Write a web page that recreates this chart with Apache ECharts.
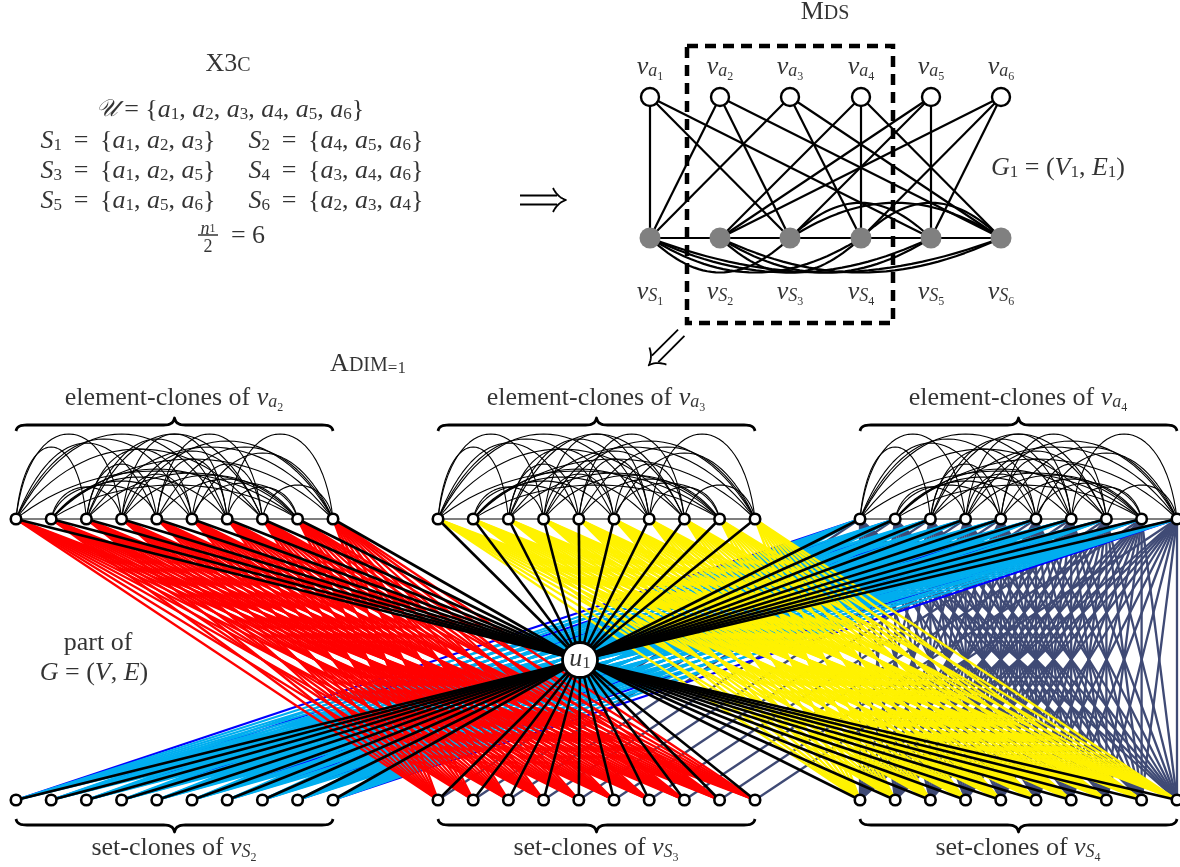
<!DOCTYPE html>
<html><head><meta charset="utf-8">
<style>html,body{margin:0;padding:0;background:#fff}#c{width:1180px;height:867px}</style>
<script src="https://cdn.jsdelivr.net/npm/echarts@6/dist/echarts.min.js"></script>
</head><body><div id="c"></div>
<script>
// ---- diagram data ----
const mdsColumnX = [650, 720, 790, 861, 931, 1001];
const mdsTopY = 97, mdsBottomY = 238;
// element i -> sets containing it (X3C instance)
const elementSets = [[0,2,4],[0,2,5],[0,3,5],[1,3,5],[1,2,4],[1,3,4]];
const setLowerArcs = [[0,2],[0,3],[0,4],[0,5],[1,3],[1,4],[1,5]];
const setUpperArcs = [[2,4],[2,5],[3,5]];
const groupStartX = [16, 438, 860];
const cloneOffsetX = [0, 35.2, 70.4, 105.6, 140.8, 176, 211.2, 246.4, 281.6, 317];
const cloneTopY = 519, cloneBottomY = 800;
const hub = [580, 660];
// [from clone, to clone, arc height]
const cloneArcs = [
 [0,2,72],[0,3,85],[0,4,76],[0,5,80],[0,6,85],[0,7,70],[0,8,48],
 [1,3,32],[1,4,34],[1,5,38],[1,6,42],[1,7,50],[1,8,34],[1,9,60],
 [2,4,55],[2,5,70],[2,6,80],[2,7,85],[2,8,46],[2,9,72],
 [3,5,45],[3,6,85],[3,7,68],[3,8,44],[3,9,78],
 [4,6,60],[4,7,85],[4,8,40],[4,9,72],
 [5,7,55],[5,8,36],[5,9,66],
 [6,8,32],[6,9,85],
 [7,9,34]
];
const set3 = (n,a,b,c)=>`{i|S}{s|${n}}{r|\u2009 = \u2009{}{i|a}{s|${a}}{r|, }{i|a}{s|${b}}{r|, }{i|a}{s|${c}}}`;
const textLabels = [
 [228,64,'{r|X3}{sc|C}'],
 [230,110,'{u|𝒰}{r| = {}{i|a}{s|1}{r|, }{i|a}{s|2}{r|, }{i|a}{s|3}{r|, }{i|a}{s|4}{r|, }{i|a}{s|5}{r|, }{i|a}{s|6}}'],
 [128,141,set3(1,1,2,3)],
 [336,141,set3(2,4,5,6)],
 [128,171,set3(3,1,2,5)],
 [336,171,set3(4,3,4,6)],
 [128,201,set3(5,1,5,6)],
 [336,201,set3(6,2,3,4)],
 [208,225,'{si|n}{ssb|1}'],
 [208,247,'{sn|2}'],
 [248,236,'{r|= 6}'],
 [825,12,'{r|M}{sc|DS}'],
 [1058,168,'{i|G}{s|1}{r| = (}{i|V}{s|1}{r|, }{i|E}{s|1}{r|)}'],
 [368,364,'{r|A}{sc|DIM}{s|=1}'],
 [174,398,'{r|element-clones of }{i|v}{si|a}{ss|2}'],
 [596,398,'{r|element-clones of }{i|v}{si|a}{ss|3}'],
 [1018,398,'{r|element-clones of }{i|v}{si|a}{ss|4}'],
 [174,848,'{r|set-clones of }{i|v}{si|S}{ss|2}'],
 [596,848,'{r|set-clones of }{i|v}{si|S}{ss|3}'],
 [1018,848,'{r|set-clones of }{i|v}{si|S}{ss|4}'],
 [98,643,'{r|part of}'],
 [94,673,'{i|G}{r| = (}{i|V}{r|, }{i|E}{r|)}'],
 [580,659,'{i|u}{s|1}'],
 [650,67,'{i|v}{si|a}{ss|1}'],[720,67,'{i|v}{si|a}{ss|2}'],[790,67,'{i|v}{si|a}{ss|3}'],
 [861,67,'{i|v}{si|a}{ss|4}'],[931,67,'{i|v}{si|a}{ss|5}'],[1001,67,'{i|v}{si|a}{ss|6}'],
 [650,292,'{i|v}{si|S}{ss|1}'],[720,292,'{i|v}{si|S}{ss|2}'],[790,292,'{i|v}{si|S}{ss|3}'],
 [861,292,'{i|v}{si|S}{ss|4}'],[931,292,'{i|v}{si|S}{ss|5}'],[1001,292,'{i|v}{si|S}{ss|6}']
];
const boxCorners = [[687,46],[893,46],[893,323],[687,323],[687,46]];
const fractionBar = [[198,235],[218,235]];

// ---- helpers ----
const F = 'Liberation Serif';
const FS = 26;
const rich = {
 r:{fontFamily:F,fontSize:FS,color:'#000'},
 i:{fontFamily:F,fontStyle:'italic',fontSize:FS,color:'#000'},
 u:{fontFamily:'DejaVu Serif',fontStyle:'italic',fontSize:24,color:'#000'},
 s:{fontFamily:F,fontSize:17,color:'#000',padding:[10,0,0,0]},
 si:{fontFamily:F,fontStyle:'italic',fontSize:18,color:'#000',padding:[8,0,0,0]},
 sn:{fontFamily:F,fontSize:18,color:'#000'},
 ss:{fontFamily:F,fontSize:12,color:'#000',padding:[20,0,0,0]},
 ssb:{fontFamily:F,fontSize:12,color:'#000',padding:[8,0,0,0]},
 sc:{fontFamily:F,fontSize:20,color:'#000',padding:[4,0,0,0]}
};
function cubic(p0,p1,p2,p3,n){
 const out=[];
 for(let k=0;k<=n;k++){const t=k/n,u=1-t;
  out.push([u*u*u*p0[0]+3*u*u*t*p1[0]+3*u*t*t*p2[0]+t*t*t*p3[0],
            u*u*u*p0[1]+3*u*u*t*p1[1]+3*u*t*t*p2[1]+t*t*t*p3[1]]);}
 return out;
}
function arc(x0,x1,y,h,span){ // h>0 up; peak height h
 const c=h/0.75, dx=(x1-x0)*(span<=3?0.12:0.28);
 return cubic([x0,y],[x0+dx,y-c],[x1-dx,y-c],[x1,y],32);
}
function brace(x0,x1,y,dir){ // dir=-1 tip up, +1 tip down
 const m=(x0+x1)/2, e=-dir*6, tip=dir*7, r=11;
 const pts=[];
 pts.push(...cubic([x0,y+e],[x0+1,y+e*0.25],[x0+4,y],[x0+r,y],8));
 pts.push(...cubic([m-r,y],[m-4,y],[m-1,y+tip*0.3],[m,y+tip],8));
 pts.push(...cubic([m,y+tip],[m+1,y+tip*0.3],[m+4,y],[m+r,y],8));
 pts.push(...cubic([x1-r,y],[x1-4,y],[x1-1,y+e*0.25],[x1,y+e],8));
 return pts;
}
function doubleArrow(cx,cy,deg,len){ // glyph built as three strokes, rotated about its centre
 const a=deg*Math.PI/180, R=([x,y])=>[cx+x*Math.cos(a)-y*Math.sin(a),cy+x*Math.sin(a)+y*Math.cos(a)];
 const L=len/2;
 return [
  {coords:[[-L,-4.5],[L-9,-4.5]].map(R)},
  {coords:[[-L,4.5],[L-9,4.5]].map(R)},
  {coords:[...cubic([L-13,-12],[L-10,-6],[L-6,-2],[L,0],10),...cubic([L,0],[L-6,2],[L-10,6],[L-13,12],10)].map(R)}
 ];
}
const cloneX = g => cloneOffsetX.map(o=>groupStartX[g]+o);
const bip=(topG,botG,filter)=>{const r=[];
 cloneX(topG).forEach((a,i)=>cloneX(botG).forEach((b,j)=>{
  if(filter(i,j)) r.push({coords:[[a,cloneTopY],[b,cloneBottomY]]});}));return r;};
const all=()=>true, same=(i,j)=>i===j, diff=(i,j)=>i!==j;
function lineSeries(data,color,width,z,extra){
 return Object.assign({type:'lines',coordinateSystem:'cartesian2d',polyline:true,silent:true,z,
  lineStyle:{color,width,opacity:1,cap:'butt',join:'round'},data,animation:false},extra||{});
}
// edge sets
const hubEdges=[];
[0,1,2].forEach(g=>cloneX(g).forEach(x=>{
 hubEdges.push({coords:[hub,[x,cloneTopY]]});hubEdges.push({coords:[hub,[x,cloneBottomY]]});}));
const arcEdges=[];
[0,1,2].forEach(g=>{const xs=cloneX(g);
 for(let i=0;i<9;i++)arcEdges.push({coords:[[xs[i],cloneTopY],[xs[i+1],cloneTopY]]});
 cloneArcs.forEach(a=>arcEdges.push({coords:arc(xs[a[0]],xs[a[1]],cloneTopY,a[2],a[1]-a[0])}));
});
const mdsEdges=[];
elementSets.forEach((ss,a)=>ss.forEach(s=>mdsEdges.push({coords:[[mdsColumnX[a],mdsTopY],[mdsColumnX[s],mdsBottomY]]})));
mdsEdges.push({coords:mdsColumnX.map(x=>[x,mdsBottomY])});
const bow=(p,h)=>{const a=mdsColumnX[p[0]],b=mdsColumnX[p[1]],d=(b-a)*0.35;
 return {coords:cubic([a,mdsBottomY],[a+d,mdsBottomY+h],[b-d,mdsBottomY+h],[b,mdsBottomY],32)};};
setLowerArcs.forEach(p=>mdsEdges.push(bow(p,46)));
setUpperArcs.forEach(p=>mdsEdges.push(bow(p,-47)));
const braces=[];
[0,1,2].forEach(g=>{const xs=cloneX(g);
 braces.push({coords:brace(xs[0],xs[9],425,-1)});
 braces.push({coords:brace(xs[0],xs[9],825,1)});
});
const cloneNodes=[];
[0,1,2].forEach(g=>cloneX(g).forEach(x=>{cloneNodes.push([x,cloneTopY]);cloneNodes.push([x,cloneBottomY]);}));

const option={
 animation:false,backgroundColor:'#fff',
 grid:{left:0,right:0,top:0,bottom:0},
 xAxis:{type:'value',min:0,max:1180,show:false},
 yAxis:{type:'value',min:0,max:867,inverse:true,show:false},
 series:[
  lineSeries([...bip(2,2,all),...(()=>{const r=[];cloneX(1).forEach((b,i)=>r.push({coords:[[cloneX(2)[i],cloneTopY],[b,cloneBottomY]]}));return r;})()],'#3F4A75',2.3,1),
  lineSeries(bip(2,0,same),'#0000FF',2.3,2),
  lineSeries(bip(2,0,diff),'#00AEEF',2.3,3),
  lineSeries(bip(0,1,all),'#FF0000',2.3,4),
  lineSeries(bip(1,2,all),'#FFF200',2.3,5),
  lineSeries(arcEdges,'#000',1.1,6),
  lineSeries(hubEdges,'#000',2.6,7),
  lineSeries(mdsEdges,'#000',2.2,6),
  lineSeries(braces,'#000',2.8,6),
  lineSeries([...doubleArrow(543,200,0,46),...doubleArrow(665,349,135,46)],'#000',1.8,6),
  lineSeries([{coords:boxCorners}],'#000',4.5,9,{lineStyle:{color:'#000',width:4.5,type:[11,7],opacity:1}}),
  lineSeries([{coords:fractionBar}],'#000',1.2,9),
  {type:'scatter',z:10,silent:true,symbol:'circle',symbolSize:10.5,animation:false,
   itemStyle:{color:'#fff',borderColor:'#000',borderWidth:2.6,opacity:1},data:cloneNodes},
  {type:'scatter',z:10,silent:true,symbol:'circle',symbolSize:35,animation:false,
   itemStyle:{color:'#fff',borderColor:'#000',borderWidth:2.8,opacity:1},data:[hub]},
  {type:'scatter',z:10,silent:true,symbol:'circle',symbolSize:18,animation:false,
   itemStyle:{color:'#fff',borderColor:'#000',borderWidth:2.4,opacity:1},data:mdsColumnX.map(x=>[x,mdsTopY])},
  {type:'scatter',z:10,silent:true,symbol:'circle',symbolSize:21,animation:false,
   itemStyle:{color:'#808080',opacity:1},data:mdsColumnX.map(x=>[x,mdsBottomY])},
  {type:'scatter',z:12,silent:true,symbolSize:0.01,animation:false,itemStyle:{color:'transparent'},
   data:textLabels.map(t=>({value:[t[0],t[1]],label:{show:true,position:'inside',formatter:t[2],rich,fontFamily:F,fontSize:FS,color:'#000'}}))}
 ]
};
echarts.init(document.getElementById('c'),null,{renderer:'canvas'}).setOption(option);
</script></body></html>
